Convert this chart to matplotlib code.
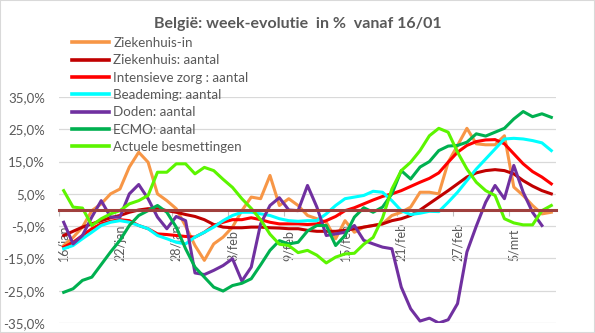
import numpy as np
import matplotlib
matplotlib.use("Agg")
import matplotlib.pyplot as plt
from matplotlib.ticker import FuncFormatter, FixedLocator
from matplotlib.patches import Rectangle

plt.rcParams['font.family'] = ['Lato', 'DejaVu Sans']

# dagen vanaf 16/01 (0 = 16/jan, 52 = 9/mrt)
tick_days = [0, 6, 12, 18, 24, 30, 36, 42, 48]
tick_labels = ["16/jan", "22/jan", "28/jan", "3/feb", "9/feb", "15/feb", "21/feb", "27/feb", "5/mrt"]

ziekenhuis_in = [-11, -8.5, -5.3, -0.2, 1.9, 5, 6.5, 13.3, 17.9, 14.8, 5, 2.9, 0.4, -5, -11,
                 -15.6, -10.5, -8.4, -5.3, -0.2, 4, 3.5, 10.7, 1.4, 3.5, 1.4, -1.7, -2.7, -3.8, -8.9,
                 -3.3, -6.9, -5.3, -4.8, -4.3, -1.7, -0.7, 0.9, 5.5, 5.5, 5, 14.8, 20, 25.3, 20.5,
                 20.2, 20.2, 23, 7.1, 4.5, 1.4, -1.2, -0.7]
ziekenhuis = [-7.9, -6.6, -5.3, -4.3, -3.3, -2.4, -1.7, -0.7, 0, 0.4, 0.4, -0.2, -0.7, -1.4, -2,
              -3, -4.5, -5.3, -5.5, -5.5, -5.3, -5.3, -5.5, -5.6, -5.8, -5.8, -6.3, -6.6, -6.6, -6.6,
              -6.3, -5.8, -5.3, -4.8, -4.3, -3.3, -2.7, -1.7, 0, 2, 4, 6, 8.1, 10.2, 11.5,
              12.2, 12.5, 12.2, 11.2, 9.1, 7.4, 6, 5]
intensieve_zorg = [-11.5, -10, -7.9, -5.8, -4.3, -3.5, -3, -3.3, -4.8, -5.8, -7.4, -7.6, -7.9, -8.2, -8.4,
                   -6.9, -4.8, -3.8, -3, -3, -2.4, -3, -3.8, -4.3, -4.3, -4.3, -4.5, -4.3, -3.3, -2,
                   -0.2, 0.7, 1.9, 3.1, 4.2, 5, 6, 7.3, 8.6, 9.8, 11.5, 14.8, 17.9, 20, 21.2,
                   21.7, 21.8, 20.5, 17.4, 14.3, 11.9, 10.2, 8.1]
beademing = [-12, -11, -8.9, -6.9, -4.8, -3.8, -3.3, -3.8, -4.8, -5.8, -7.9, -8.9, -10, -10.5, -8.4,
             -6.9, -5.3, -3.3, -1.7, -0.7, -0.7, -1.2, -1.7, -2.7, -3.3, -3.5, -3.3, -3.3, -1.2, 1.4,
             3.5, 4, 4.5, 5.8, 5.5, 2.9, -0.2, -1.4, -1, -0.4, -0.5, 2.4, 5.5, 9.1, 12.7,
             15.8, 18.9, 22, 22.2, 22, 21.5, 20.8, 18.4]
doden = [-3.8, -10.5, -7.9, -2.2, 2.9, -2.2, -2.2, 5, 7.9, 3.5, -2.2, -5.8, -2, -3.3, -19.5,
         -20, -18.7, -17.2, -15.1, -22, -17.7, -4.3, 1.4, 3.8, 0, -0.2, 7.6, 0.9, -7.9, -7.4,
         -6.9, -4.8, -9.4, -10.5, -11.5, -12, -23.9, -30.6, -34.4, -33.5, -35, -34, -29, -13, -5,
         2.4, 7.6, 3.5, 13.8, 5.5, -0.7, -4.8]
ecmo = [-25.5, -24.4, -21.8, -20.8, -16.9, -13, -9.4, -4.8, -1.7, -0.2, 1.4, -0.7, -5.3, -12, -17.7,
        -20.8, -23.9, -25.1, -23.4, -22.7, -21.3, -17, -12.5, -9.5, -10.5, -10, -6.5, -4.8, -4.8, -11,
        -7.9, -2.2, 0.7, -0.7, 0.9, 5, 12.2, 9.6, 13.3, 15, 18.4, 19.8, 20, 21, 23.6,
        22.9, 24.1, 25.3, 28.2, 30.5, 28.9, 29.8, 28.7]
besmettingen = [6, 0.9, 0.6, -4.8, -2.7, -1.2, -0.2, 1.9, 2.9, 4.5, 11.7, 11.7, 14.3, 14.3, 11.2,
                13.2, 12.2, 9.5, 7, 3.5, 0.5, -3, -7.5, -10.6, -11, -13.2, -12.5, -14, -16.4, -14.6,
                -13.6, -13.4, -10.6, -8.5, -2.5, 6.5, 12.2, 14.8, 18.4, 23, 25.3, 24.1, 17.9, 12.7, 8.6,
                6, 4.5, -2.7, -4, -4.6, -4.6, -0.2, 1.4]

series = [
    ("Ziekenhuis-in", ziekenhuis_in, "#F79646"),
    ("Ziekenhuis: aantal", ziekenhuis, "#C00000"),
    ("Intensieve zorg : aantal", intensieve_zorg, "#FF0000"),
    ("Beademing: aantal", beademing, "#00FFFF"),
    ("Doden: aantal", doden, "#7030A0"),
    ("ECMO: aantal", ecmo, "#00B050"),
    ("Actuele besmettingen", besmettingen, "#5CF500"),
]

grey = "#595959"

fig = plt.figure(figsize=(5.95, 3.33), dpi=100)
ax = fig.add_axes([59 / 595, 1 - 323 / 333, (556 - 59) / 595, (323 - 97) / 333])

for name, vals, col in series:
    ax.plot(np.arange(len(vals)), vals, color=col, lw=2.2, label=name, solid_joinstyle='round')

ax.set_xlim(-0.5, 52.5)
ax.set_ylim(-35, 35)
ax.set_yticks(np.arange(-35, 36, 10))
ax.yaxis.set_major_formatter(FuncFormatter(lambda v, p: f"{v:.1f}%".replace(".", ",")))
ax.grid(axis='y', color="#D9D9D9", lw=0.9)
ax.set_axisbelow(True)

for s in ['left', 'top', 'right']:
    ax.spines[s].set_visible(False)
ax.spines['bottom'].set_position(('data', 0))
ax.spines['bottom'].set_color("#A0403E")
ax.spines['bottom'].set_linewidth(2.2)
ax.spines['bottom'].set_zorder(5)

# tickmarks tussen categorieen, labels gecentreerd op de dag
ax.xaxis.set_major_locator(FixedLocator([d - 0.5 for d in tick_days]))
ax.xaxis.set_major_formatter(FuncFormatter(lambda v, p: ""))
ax.xaxis.set_minor_locator(FixedLocator(tick_days))
ax.set_xticklabels(tick_labels, minor=True)
ax.tick_params(axis='x', which='major', length=4, color="#BFBFBF", width=0.8)
ax.tick_params(axis='x', which='minor', length=0, pad=37, labelrotation=90,
               labelsize=9, labelcolor=grey)
for lab in ax.get_xticklabels(minor=True):
    lab.set_verticalalignment('bottom')
ax.tick_params(axis='y', length=0, pad=10, labelsize=9.5, labelcolor=grey)

fig.text(0.5, 1 - 24 / 333, "België: week-evolutie  in %  vanaf 16/01", ha='center', va='center',
         fontsize=11.5, fontweight='bold', color=grey)

leg = fig.legend(loc='upper left', bbox_to_anchor=(72 / 595, 1 - 37 / 333), frameon=False,
                 fontsize=9.6, handlelength=2.8, handletextpad=0.3, labelspacing=0.4,
                 borderpad=0, borderaxespad=0)
for t in leg.get_texts():
    t.set_color(grey)
for h in leg.get_lines():
    h.set_linewidth(2.6)

fig.patches.append(Rectangle((0, 0), 1, 1, transform=fig.transFigure, fill=False,
                             edgecolor="#D9D9D9", lw=1.5))

fig.savefig("out.png", dpi=100)
